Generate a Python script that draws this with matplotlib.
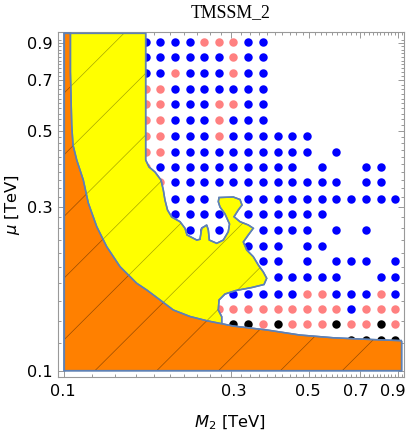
import matplotlib
matplotlib.use("Agg")
import matplotlib.pyplot as plt
import matplotlib.transforms as mtransforms
import numpy as np
from matplotlib.patches import Polygon
from matplotlib.lines import Line2D
from matplotlib.ticker import FixedLocator, NullFormatter

plt.rcParams['font.family'] = ['DejaVu Sans']
plt.rcParams['mathtext.fontset'] = 'dejavusans'

# ---------------- data ----------------
m2_grid = [0.1707, 0.188, 0.207, 0.228, 0.251, 0.276, 0.304, 0.335, 0.370, 0.407,
           0.448, 0.494, 0.544, 0.599, 0.660, 0.728, 0.801, 0.883]
mu_grid = [0.907, 0.817, 0.737, 0.662, 0.598, 0.538, 0.482, 0.434, 0.393, 0.354,
           0.316, 0.286, 0.256, 0.230, 0.208, 0.187, 0.167, 0.151, 0.137, 0.123]
# B = blue, P = pink, K = black, . = none (one row per mu value, one char per M2 value)
status_rows = [
    "BBBBPPPBB.........",
    "BBBBBBPBB.........",
    "BBPBBBPBB.........",
    "PPBBBBBBB.........",
    "PPBBBPPBB.........",
    "PPBBBPBBB.........",
    "PPBBBPBBBBBB......",
    "PPBBBBBBBBBB.B....",
    "PBBBBBBBBBB.B..BB.",
    ".PBBBBBBBBBBBB.BB.",
    "..BBB..BBBBBBBBBBB",
    "..BBBB.BBBBBB.....",
    "...BBB..BBBB.B.B..",
    ".......BBB.BB.....",
    "........BB.B.BBB.B",
    ".........BBBBB..BB",
    "......BBBBBPPBBBPB",
    ".....PPPPPPPPPBPPP",
    "......KKPKPPPKPPKP",
    "..............KKKK",
]

region_xmin, region_xmax = 0.1, 0.92
region_ymin, region_ymax = 0.1, 0.96

orange_m2 = [0.1041, 0.1041, 0.1050, 0.1059, 0.1085, 0.1133, 0.1171, 0.1238, 0.1322,
             0.1443, 0.1610, 0.1720, 0.1877, 0.2049, 0.2287, 0.2552, 0.3040, 0.3787,
             0.4714, 0.5869, 0.7311, 0.9204]
orange_mu = [0.960, 0.7406, 0.5192, 0.4540, 0.4107, 0.3592, 0.3077, 0.2626, 0.2296,
             0.2008, 0.1797, 0.1718, 0.1607, 0.1502, 0.1438, 0.1398, 0.1349, 0.1314,
             0.1270, 0.1247, 0.1234, 0.1223]

yellow_m2 = [0.1708, 0.1708, 0.1746, 0.1816, 0.1889, 0.1918, 0.1939, 0.1972, 0.2027,
             0.2141, 0.2212, 0.2242, 0.2390, 0.2441, 0.2469, 0.2552, 0.2579, 0.2596,
             0.2725, 0.2847, 0.2941, 0.2965, 0.2878, 0.2785, 0.2754, 0.2767, 0.3039,
             0.3177, 0.3219, 0.3141, 0.3054, 0.3177, 0.3355, 0.3467, 0.3355, 0.3247,
             0.3320, 0.3467, 0.3583, 0.3703, 0.3787, 0.3720, 0.3438, 0.3094, 0.2878,
             0.2767, 0.2754, 0.2817, 0.2817]
yellow_mu = [0.960, 0.4106, 0.3918, 0.3789, 0.3590, 0.3358, 0.3140, 0.2936, 0.2802,
             0.2715, 0.2598, 0.2484, 0.2401, 0.2413, 0.2598, 0.2656, 0.2568, 0.2401,
             0.2349, 0.2401, 0.2539, 0.2673, 0.2859, 0.2996, 0.3105, 0.3193, 0.3204,
             0.3150, 0.3036, 0.2936, 0.2807, 0.2715, 0.2656, 0.2598, 0.2484, 0.2370,
             0.2246, 0.2147, 0.2031, 0.1938, 0.1858, 0.1782, 0.1747, 0.1712, 0.1672,
             0.1606, 0.1502, 0.1436, 0.1372]

xticks = [0.1, 0.3, 0.5, 0.7, 0.9]
yticks = [0.1, 0.3, 0.5, 0.7, 0.9]
tick_labels = ['0.1', '0.3', '0.5', '0.7', '0.9']

# ---------------- figure ----------------
W, H = 407, 434
fig = plt.figure(figsize=(W / 100, H / 100), dpi=100)
ax = fig.add_axes([57.7 / W, 1 - 377.3 / H, (403.5 - 57.7) / W, (377.3 - 32.3) / H])
ax.set_xscale('log')
ax.set_yscale('log')
ax.set_xlim(0.09575, 0.9313)
ax.set_ylim(0.09567, 0.9665)

colors = {'B': '#0000ff', 'P': '#ff8080', 'K': '#000000'}
for code, col in colors.items():
    xs, ys = [], []
    for j, row in enumerate(status_rows):
        for i, ch in enumerate(row):
            if ch == code:
                xs.append(m2_grid[i])
                ys.append(mu_grid[j])
    ax.scatter(xs, ys, s=37, c=col, linewidths=0, zorder=1)

edge_col = '#5e81b5'

# yellow region
ypts = [(region_xmin, region_ymax)] + list(zip(yellow_m2, yellow_mu)) + [(region_xmin, region_ymin)]
ypoly = Polygon(ypts, closed=True, facecolor='#ffff00', edgecolor=edge_col, lw=1.1, zorder=2)
ax.add_patch(ypoly)

# orange region
opts = [(region_xmin, region_ymax)] + list(zip(orange_m2, orange_mu)) + \
       [(region_xmax, orange_mu[-1]), (region_xmax, region_ymin), (region_xmin, region_ymin)]
opoly = Polygon(opts, closed=True, facecolor='#ff8000', edgecolor=edge_col, lw=1.1, zorder=4)
ax.add_patch(opoly)

# hatching (diagonal lines in screen space)
for k in range(-9, 7):
    d = 0.0884 + 0.1788 * k
    for poly, z, a in ((ypoly, 3, 0.35), (opoly, 5, 0.4)):
        ln = Line2D([-1, 2], [-1 - d, 2 - d], transform=ax.transAxes, color='black',
                    lw=0.5, alpha=a, zorder=z)
        ax.add_line(ln)
        ln.set_clip_path(poly)

# outlines re-drawn on top
ax.add_patch(Polygon(ypts, closed=True, fill=False, edgecolor=edge_col, lw=1.1, zorder=3.5))
ax.add_patch(Polygon(opts, closed=True, fill=False, edgecolor=edge_col, lw=1.1, zorder=6))

# ticks
minor = [round(v, 2) for v in np.arange(0.10, 0.94, 0.02)]
for axis, ticks in ((ax.xaxis, xticks), (ax.yaxis, yticks)):
    axis.set_major_locator(FixedLocator(ticks))
    axis.set_minor_locator(FixedLocator([m for m in minor if m not in ticks]))
    axis.set_minor_formatter(NullFormatter())
ax.set_xticklabels(tick_labels)
ax.set_yticklabels(tick_labels)
ax.tick_params(which='both', direction='in', top=True, right=True, color='#888888',
               labelsize=11.6, width=0.6)
ax.tick_params(which='major', length=4.0)
ax.tick_params(which='minor', length=2.2)
ax.tick_params(axis='x', which='major', pad=4.8)
ax.tick_params(axis='y', which='major', pad=4.0)
for sp in ax.spines.values():
    sp.set_color('#999999')
    sp.set_linewidth(0.8)

# nudge x tick labels to the reference positions (last one kept inside the canvas)
shifts = [-1, 3, -1, -4, -5]
for lab, dx in zip(ax.get_xticklabels(), shifts):
    lab.set_transform(lab.get_transform() +
                      mtransforms.ScaledTranslation(dx / 100, 0, fig.dpi_scale_trans))

fig.text(230.7 / W, 1 - 17.3 / H, 'TMSSM_2', family='Liberation Serif', fontsize=12.8,
         ha='center', va='baseline')
fig.text(230.0 / W, 1 - 423 / H, r'$M_2$ [TeV]', fontsize=11.8, ha='center', va='center')
fig.text(13.0 / W, 1 - 205 / H, r'$\mu$ [TeV]', fontsize=11.8, ha='center', va='center',
         rotation=90)

fig.savefig('out.png', dpi=100)
